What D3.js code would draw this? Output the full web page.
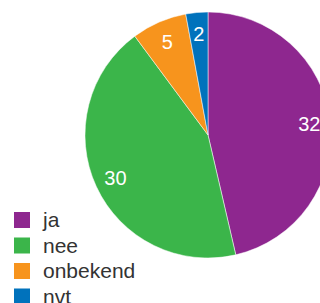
<!DOCTYPE html>
<html>
<head>
<meta charset="utf-8">
<script src="https://cdn.jsdelivr.net/npm/d3@7"></script>
<style>
  body { margin: 0; background: #fff; }
  svg { display: block; }
</style>
</head>
<body>
<svg id="chart" width="320" height="303"></svg>
<script>
var categories = ['ja', 'nee', 'onbekend', 'nvt'];
var counts = [32, 30, 5, 2];
var colors = ['#8e278f', '#3bb54a', '#f7941d', '#0072bc'];

var svg = d3.select('#chart');
var radius = 123;

var rows = categories.map(function(c, i) {
  return { name: c, value: counts[i] };
});

var color = d3.scaleOrdinal()
  .domain(categories)
  .range(colors);

var pie = d3.pie()
  .sort(null)
  .value(function(d) { return d.value; });

var arc = d3.arc()
  .innerRadius(0)
  .outerRadius(radius);

// labels sit a bit inside the rim
var labelArc = d3.arc()
  .innerRadius(204 - radius)
  .outerRadius(radius);

var g = svg.append('g')
  .attr('transform', 'translate(208,135)');

g.selectAll('path')
  .data(pie(rows))
  .enter().append('path')
  .attr('d', arc)
  .attr('fill', function(d) { return color(d.data.name); })
  .attr('stroke', '#fff')
  .attr('stroke-width', 0.5);

g.selectAll('text')
  .data(pie(rows))
  .enter().append('text')
  .attr('transform', function(d) { return 'translate(' + labelArc.centroid(d) + ')'; })
  .attr('text-anchor', 'middle')
  .attr('dy', '0.36em')
  .attr('fill', '#fff')
  .style('font-family', '"Liberation Sans", Arial, sans-serif')
  .style('font-size', '20px')
  .text(function(d) { return d.data.value; });

var y = d3.scaleBand()
  .domain(categories)
  .range([207, 309]);

var legend = svg.append('g')
  .selectAll('g')
  .data(categories)
  .enter().append('g')
  .attr('transform', function(d) { return 'translate(14,' + y(d) + ')'; });

legend.append('rect')
  .attr('y', 5)
  .attr('width', 16)
  .attr('height', 16)
  .attr('fill', function(d) { return color(d); });

legend.append('text')
  .attr('x', 29)
  .attr('y', 20)
  .attr('fill', '#333')
  .style('font-family', '"Liberation Sans", Arial, sans-serif')
  .style('font-size', '21px')
  .text(function(d) { return d; });
</script>
</body>
</html>
